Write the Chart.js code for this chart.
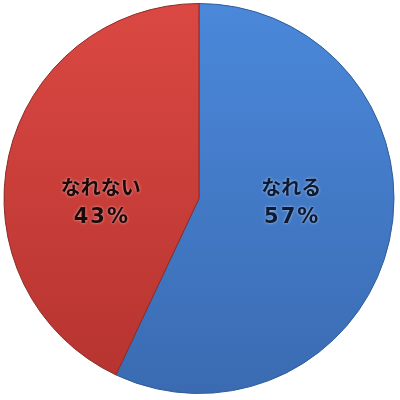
<!DOCTYPE html>
<html lang="ja">
  <head>
    <meta charset="UTF-8" />
    <script src="https://cdn.jsdelivr.net/npm/chart.js@4.4.0/dist/chart.umd.min.js"></script>
    <title>なれる / なれない</title>
    <style>
      body { margin: 0; background: #fff; }
      #wrap { width: 400px; height: 400px; }
    </style>
  </head>
  <body>
    <div id="wrap"><canvas id="myChart"></canvas></div>
    <script>
      const labels = ["なれる", "なれない"];
      const values = [57, 43];
      const topColors = ["#4b88da", "#db4843"];
      const bottomColors = ["#3a6bb2", "#b5332f"];
      const edgeColors = ["#2f5c98", "#8a2b28"];

      function fillFor(ctx) {
        const chart = ctx.chart;
        const area = chart.chartArea;
        if (!area) return topColors[ctx.dataIndex];
        const g = chart.ctx.createLinearGradient(0, area.top, 0, area.bottom);
        g.addColorStop(0, topColors[ctx.dataIndex]);
        g.addColorStop(1, bottomColors[ctx.dataIndex]);
        return g;
      }

      const sliceLabels = {
        id: "sliceLabels",
        afterDatasetsDraw(chart) {
          const c = chart.ctx;
          const meta = chart.getDatasetMeta(0);
          const total = values.reduce((a, b) => a + b, 0);
          c.save();
          c.textAlign = "center";
          c.textBaseline = "middle";
          meta.data.forEach((arc, i) => {
            const mid = (arc.startAngle + arc.endAngle) / 2;
            const x = arc.x + Math.cos(mid) * arc.outerRadius * 0.5 - 3;
            const y = arc.y;
            const pct = Math.round((values[i] / total) * 100) + "%";
            c.shadowColor = "rgba(255,255,255,0.6)";
            c.shadowBlur = 3;
            c.fillStyle = i === 0 ? "#0d1a33" : "#1a0a0a";
            c.font = 'bold 20px "Noto Sans CJK JP"';
            c.letterSpacing = "0px";
            c.fillText(labels[i], x, y - 11);
            c.font = 'bold 21px "DejaVu Sans"';
            c.letterSpacing = "2px";
            c.fillText(pct, x + 1, y + 19);
          });
          c.restore();
        },
      };

      new Chart(document.getElementById("myChart"), {
        type: "pie",
        data: {
          labels: labels,
          datasets: [
            {
              data: values,
              backgroundColor: fillFor,
              borderColor: edgeColors,
              borderWidth: 1,
            },
          ],
        },
        options: {
          responsive: true,
          maintainAspectRatio: false,
          animation: false,
          layout: { padding: { top: 3, bottom: 6, left: 3, right: 5 } },
          plugins: {
            legend: { display: false },
            tooltip: { enabled: false },
          },
        },
        plugins: [sliceLabels],
      });
    </script>
  </body>
</html>
